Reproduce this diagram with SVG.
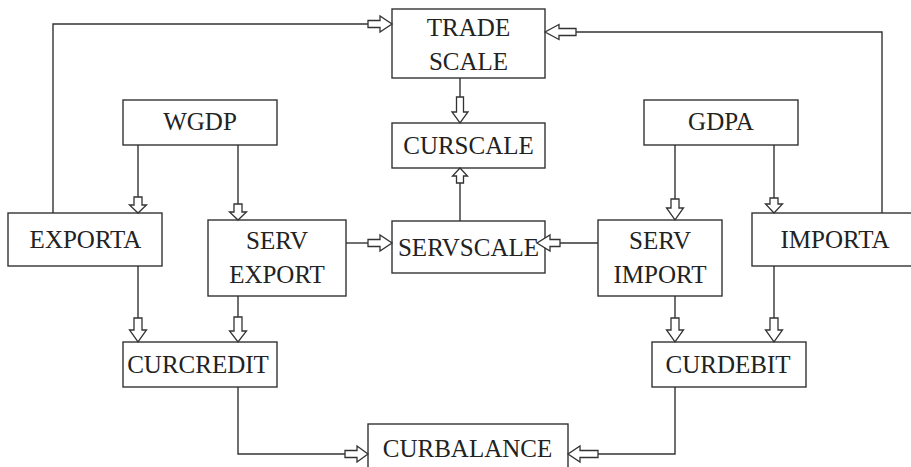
<svg xmlns="http://www.w3.org/2000/svg" width="911" height="467" viewBox="0 0 911 467">
<style>
.box{fill:#fff;stroke:#333;stroke-width:1.4}
.lbl{font-family:"Liberation Serif","Times New Roman",serif;font-size:25px;fill:#222;text-anchor:middle}
.ln{fill:none;stroke:#333;stroke-width:1.4}
.ar{fill:#fff;stroke:#333;stroke-width:1.3;stroke-linejoin:miter}
</style>
<rect width="911" height="467" fill="#fff"/>
<g id="trade"><rect class="box" x="392" y="9" width="153" height="69"/><text class="lbl" x="468.5" y="36">TRADE</text><text class="lbl" x="468.5" y="70">SCALE</text></g>
<g id="curscale"><rect class="box" x="392" y="123" width="153" height="45"/><text class="lbl" x="468.5" y="154">CURSCALE</text></g>
<g id="wgdp"><rect class="box" x="123" y="100" width="154" height="45"/><text class="lbl" x="200" y="130">WGDP</text></g>
<g id="gdpa"><rect class="box" x="644" y="100" width="154" height="45"/><text class="lbl" x="721" y="130">GDPA</text></g>
<g id="exporta"><rect class="box" x="8" y="213" width="154" height="53"/><text class="lbl" x="85.5" y="248">EXPORTA</text></g>
<g id="servexport"><rect class="box" x="208" y="220" width="138" height="76"/><text class="lbl" x="277" y="249">SERV</text><text class="lbl" x="277" y="283">EXPORT</text></g>
<g id="servscale"><rect class="box" x="392" y="221" width="153" height="52"/><text class="lbl" x="468.5" y="256">SERVSCALE</text></g>
<g id="servimport"><rect class="box" x="598" y="220" width="124" height="76"/><text class="lbl" x="660" y="249">SERV</text><text class="lbl" x="660" y="283">IMPORT</text></g>
<g id="importa"><rect class="box" x="752" y="213" width="170" height="53"/><text class="lbl" x="835" y="248">IMPORTA</text></g>
<g id="curcredit"><rect class="box" x="123" y="342" width="154" height="45"/><text class="lbl" x="198" y="373">CURCREDIT</text></g>
<g id="curdebit"><rect class="box" x="652" y="342" width="154" height="45"/><text class="lbl" x="728" y="373">CURDEBIT</text></g>
<g id="curbalance"><rect class="box" x="368" y="424" width="200" height="60"/><text class="lbl" x="467.5" y="457">CURBALANCE</text></g>
<g id="connectors">
<path class="ln" d="M53,213V24H368"/>
<path class="ln" d="M882,213V32H576"/>
<path class="ln" d="M460,78V97"/>
<path class="ln" d="M460,221V183"/>
<path class="ln" d="M138,145V197"/>
<path class="ln" d="M238,145V204"/>
<path class="ln" d="M346,243H368"/>
<path class="ln" d="M598,243H560"/>
<path class="ln" d="M138,266V318"/>
<path class="ln" d="M238,296V317"/>
<path class="ln" d="M238,387V454H345"/>
<path class="ln" d="M675,145V199"/>
<path class="ln" d="M774,145V198"/>
<path class="ln" d="M675,296V318"/>
<path class="ln" d="M774,266V318"/>
<path class="ln" d="M675,387V454H598"/>
<polygon class="ar" points="368,20.5 380,20.5 380,16 392,24 380,32 380,27.5 368,27.5"/>
<polygon class="ar" points="576,28.5 559,28.5 559,24.5 545,32 559,39.5 559,35.5 576,35.5"/>
<polygon class="ar" points="456.5,97 463.5,97 463.5,112 468,112 460,123 452,112 456.5,112"/>
<polygon class="ar" points="456.5,183 463.5,183 463.5,176 467.5,176 460,168 452.5,176 456.5,176"/>
<polygon class="ar" points="134,197 142,197 142,205 146.5,205 138,213 129.5,205 134,205"/>
<polygon class="ar" points="234,204 242,204 242,212 246.5,212 238,220 229.5,212 234,212"/>
<polygon class="ar" points="368,239.5 380,239.5 380,235 392,243 380,251 380,246.5 368,246.5"/>
<polygon class="ar" points="560,239.5 550,239.5 550,235 537,243 550,251 550,246.5 560,246.5"/>
<polygon class="ar" points="134,318 142,318 142,330 146.5,330 138,342 129.5,330 134,330"/>
<polygon class="ar" points="234,317 242,317 242,331 246.5,331 238,342 229.5,331 234,331"/>
<polygon class="ar" points="345,450.5 357,450.5 357,446 368,454 357,462 357,457.5 345,457.5"/>
<polygon class="ar" points="671,199 679,199 679,208 683.5,208 675,220 666.5,208 671,208"/>
<polygon class="ar" points="770,198 778,198 778,204 782.5,204 774,213 765.5,204 770,204"/>
<polygon class="ar" points="671,318 679,318 679,330 683.5,330 675,342 666.5,330 671,330"/>
<polygon class="ar" points="770,318 778,318 778,330 782.5,330 774,342 765.5,330 770,330"/>
<polygon class="ar" points="598,450.5 580,450.5 580,446 568,454 580,462 580,457.5 598,457.5"/>
</g>
</svg>
